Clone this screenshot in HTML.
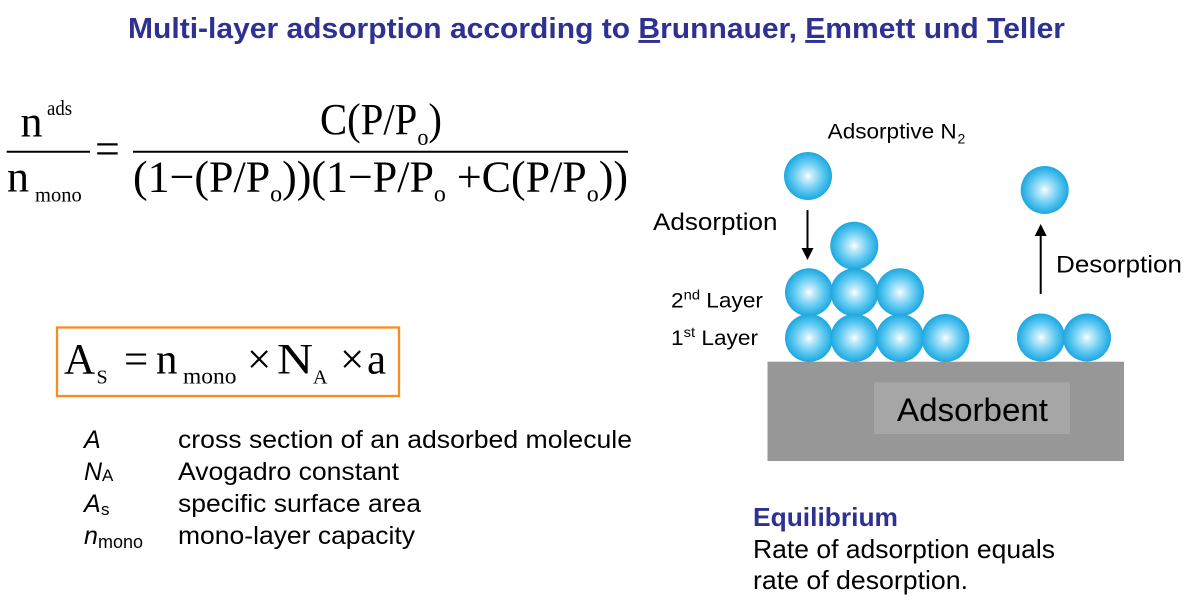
<!DOCTYPE html>
<html>
<head>
<meta charset="utf-8">
<style>
  html,body{margin:0;padding:0;background:#fff;}
  svg{display:block;}
  .sans{font-family:"Liberation Sans", Arial, sans-serif;}
  .serif{font-family:"Liberation Serif", "Times New Roman", serif;}
</style>
</head>
<body>
<svg width="1200" height="612" viewBox="0 0 1200 612" xmlns="http://www.w3.org/2000/svg">
  <defs>
    <radialGradient id="mol" cx="50%" cy="50%" r="50%">
      <stop offset="0%" stop-color="#ffffff"/>
      <stop offset="18%" stop-color="#c6ecfb"/>
      <stop offset="60%" stop-color="#62caf2"/>
      <stop offset="100%" stop-color="#1ba7e0"/>
    </radialGradient>
  </defs>
  <rect width="1200" height="612" fill="#fff"/>

  <!-- Title -->
  <text class="sans" x="128" y="38" font-size="29" font-weight="bold" fill="#2E3192" textLength="937" lengthAdjust="spacingAndGlyphs">Multi-layer adsorption according to <tspan text-decoration="underline">B</tspan>runnauer, <tspan text-decoration="underline">E</tspan>mmett und <tspan text-decoration="underline">T</tspan>eller</text>

  <!-- BET equation -->
  <g class="serif" fill="#000">
    <text x="20.5" y="136.7" font-size="44">n</text>
    <text x="47" y="115" font-size="21" textLength="25" lengthAdjust="spacingAndGlyphs">ads</text>
    <line x1="6.7" y1="151.7" x2="90" y2="151.7" stroke="#000" stroke-width="2"/>
    <text x="7" y="191.7" font-size="44">n</text>
    <text x="35" y="201.7" font-size="21" textLength="46.7" lengthAdjust="spacingAndGlyphs">mono</text>

    <text x="95" y="163.3" font-size="44">=</text>

    <text x="320" y="134" font-size="44" textLength="122" lengthAdjust="spacingAndGlyphs">C(P/P<tspan font-size="24" dy="11">o</tspan><tspan dy="-11">)</tspan></text>
    <line x1="133" y1="151.7" x2="628" y2="151.7" stroke="#000" stroke-width="2"/>
    <text x="133" y="191.7" font-size="44" textLength="495" lengthAdjust="spacingAndGlyphs">(1−(P/P<tspan font-size="24" dy="10">o</tspan><tspan dy="-10">))(1−P/P</tspan><tspan font-size="24" dy="10">o</tspan><tspan dy="-10"> +C(P/P</tspan><tspan font-size="24" dy="10">o</tspan><tspan dy="-10">))</tspan></text>
  </g>

  <!-- Box equation -->
  <rect x="57" y="327.5" width="342" height="68.5" fill="none" stroke="#F88D1E" stroke-width="2.3"/>
  <g class="serif" fill="#000">
    <text x="64" y="373.3" font-size="43">A</text>
    <text x="96.5" y="383.3" font-size="20">S</text>
    <text x="124" y="373.3" font-size="43">=</text>
    <text x="156" y="373.3" font-size="43">n</text>
    <text x="183" y="383.3" font-size="23" textLength="53.5" lengthAdjust="spacingAndGlyphs">mono</text>
    <text x="247" y="373.3" font-size="43">×</text>
    <text x="277" y="373.3" font-size="43" textLength="36" lengthAdjust="spacingAndGlyphs">N</text>
    <text x="313" y="383.3" font-size="20">A</text>
    <text x="340" y="373.3" font-size="43">×</text>
    <text x="367" y="373.3" font-size="43">a</text>
  </g>

  <!-- Legend -->
  <g class="sans" fill="#000" font-size="25">
    <text x="84" y="448" font-style="italic">A</text>
    <text x="178" y="448" textLength="454" lengthAdjust="spacingAndGlyphs">cross section of an adsorbed molecule</text>

    <text x="84" y="480" font-style="italic">N</text>
    <text x="102" y="481" font-size="17">A</text>
    <text x="178" y="480" textLength="221" lengthAdjust="spacingAndGlyphs">Avogadro constant</text>

    <text x="84" y="512" font-style="italic">A</text>
    <text x="101" y="515" font-size="17">s</text>
    <text x="178" y="512" textLength="243" lengthAdjust="spacingAndGlyphs">specific surface area</text>

    <text x="84" y="544" font-style="italic">n</text>
    <text x="98" y="548" font-size="18" textLength="45" lengthAdjust="spacingAndGlyphs">mono</text>
    <text x="178" y="544" textLength="237" lengthAdjust="spacingAndGlyphs">mono-layer capacity</text>
  </g>

  <!-- Diagram -->
  <rect x="767.5" y="361.7" width="356.5" height="99.3" fill="#979797"/>
  <rect x="874" y="382.3" width="196" height="51.7" fill="#a6a6a6"/>
  <text class="sans" x="897" y="421" font-size="32" fill="#000" textLength="151" lengthAdjust="spacingAndGlyphs">Adsorbent</text>

  <g fill="url(#mol)">
    <circle cx="808" cy="176" r="24"/>
    <circle cx="1044.7" cy="190" r="24"/>
    <circle cx="854.3" cy="245.7" r="24"/>
    <circle cx="809" cy="292.3" r="24"/>
    <circle cx="854.5" cy="292.3" r="24"/>
    <circle cx="900" cy="292.3" r="24"/>
    <circle cx="809" cy="338" r="24"/>
    <circle cx="854.5" cy="338" r="24"/>
    <circle cx="900" cy="338" r="24"/>
    <circle cx="945.5" cy="338" r="24"/>
    <circle cx="1041" cy="337.5" r="24"/>
    <circle cx="1087" cy="337.5" r="24"/>
  </g>

  <!-- arrows -->
  <line x1="807.5" y1="210" x2="807.5" y2="250" stroke="#000" stroke-width="2"/>
  <polygon points="801.5,248 813.5,248 807.5,260" fill="#000"/>
  <line x1="1040.7" y1="294" x2="1040.7" y2="234" stroke="#000" stroke-width="2"/>
  <polygon points="1034.7,236 1046.7,236 1040.7,224" fill="#000"/>

  <g class="sans" fill="#000">
    <text x="827.7" y="138.3" font-size="21" textLength="129" lengthAdjust="spacingAndGlyphs">Adsorptive N</text>
    <text x="957.5" y="143.5" font-size="14">2</text>
    <text x="653" y="230" font-size="24" textLength="124.5" lengthAdjust="spacingAndGlyphs">Adsorption</text>
    <text x="1056" y="272.7" font-size="24" textLength="126" lengthAdjust="spacingAndGlyphs">Desorption</text>
    <text x="671" y="307.3" font-size="21.5" textLength="92" lengthAdjust="spacingAndGlyphs">2<tspan font-size="14" dy="-8">nd</tspan><tspan dy="8"> Layer</tspan></text>
    <text x="671" y="345" font-size="21.5" textLength="87" lengthAdjust="spacingAndGlyphs">1<tspan font-size="14" dy="-8">st</tspan><tspan dy="8"> Layer</tspan></text>
  </g>

  <!-- Equilibrium -->
  <g class="sans">
    <text x="753" y="526" font-size="26" font-weight="bold" fill="#2E3192" textLength="145" lengthAdjust="spacingAndGlyphs">Equilibrium</text>
    <text x="753" y="558" font-size="26" fill="#000" textLength="302" lengthAdjust="spacingAndGlyphs">Rate of adsorption equals</text>
    <text x="753" y="589" font-size="26" fill="#000" textLength="215" lengthAdjust="spacingAndGlyphs">rate of desorption.</text>
  </g>
</svg>
</body>
</html>
